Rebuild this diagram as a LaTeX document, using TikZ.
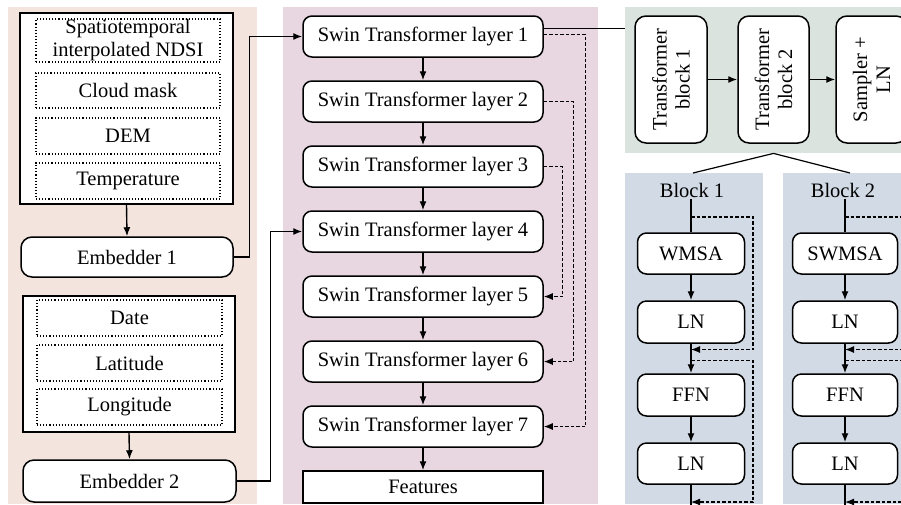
\documentclass[tikz,border=0pt]{standalone}
\usepackage{fontspec}
\setmainfont{Liberation Serif}
\usetikzlibrary{arrows.meta,calc}
\definecolor{peach}{RGB}{243,229,222}
\definecolor{mauve}{RGB}{232,215,224}
\definecolor{sage}{RGB}{219,227,223}
\definecolor{bluegrey}{RGB}{210,218,230}
\begin{document}
\begin{tikzpicture}[x=1pt,y=-1pt,
  every node/.style={font=\fontsize{20.5}{23}\selectfont, inner sep=0pt, align=center},
  panel/.style={draw=none, anchor=north west, inner sep=0pt},
  sqbox/.style={draw, line width=1.5pt, fill=white},
  dotbox/.style={draw, dotted, line width=1.1pt, fill=white},
  rbox/.style={draw, line width=1.5pt, fill=white, rounded corners=9pt},
  ln/.style={line width=1.4pt},
  arr/.style={-{Latex[length=9pt,width=7pt]}, line width=1.4pt},
  dasharr/.style={-{Latex[length=9pt,width=7pt]}, line width=1.2pt, dash pattern=on 3.5pt off 2pt},
]
\useasboundingbox (0,0) rectangle (901,504);
\fill[white] (0,0) rectangle (901,504);

% panels
\node[panel, fill=peach, minimum width=249pt, minimum height=497pt] (lp) at (8,7) {};
\node[panel, fill=mauve, minimum width=315pt, minimum height=497pt] (mp) at (283,7) {};
\node[panel, fill=sage, minimum width=290pt, minimum height=146pt] (trp) at (625,7) {};
\node[panel, fill=bluegrey, minimum width=138pt, minimum height=331pt] (b1p) at (625,173) {};
\node[panel, fill=bluegrey, minimum width=130pt, minimum height=331pt] (b2p) at (783,173) {};

% left column: input group 1
\node[sqbox, minimum width=213pt, minimum height=191pt] (in1) at (126.5,108.5) {};
\node[dotbox, minimum width=184pt, minimum height=43pt] (ndsi) at (128,40.5) {Spatiotemporal\\interpolated NDSI};
\node[dotbox, minimum width=184pt, minimum height=35pt] (cloud) at (128,90.5) {Cloud mask};
\node[dotbox, minimum width=184pt, minimum height=36pt] (dem) at (128,136) {DEM};
\node[dotbox, minimum width=184pt, minimum height=36pt] (temp) at (128,181) {Temperature};
\node[rbox, rounded corners=11pt, minimum width=212pt, minimum height=40pt] (emb1) at (127,257) {Embedder 1};
\draw[arr] (in1.south) -- (emb1.north);

% left column: input group 2
\node[sqbox, minimum width=212pt, minimum height=136pt] (in2) at (129,364) {};
\node[dotbox, minimum width=185pt, minimum height=36pt] (date) at (129.5,318) {Date};
\node[dotbox, minimum width=185pt, minimum height=36pt] (lat) at (129.5,363) {Latitude};
\node[dotbox, minimum width=185pt, minimum height=36pt] (lon) at (129.5,407) {Longitude};
\node[rbox, rounded corners=11pt, minimum width=213pt, minimum height=42pt] (emb2) at (129.5,481) {Embedder 2};
\draw[arr] (in2.south) -- (emb2.north);

% middle column
\foreach \i in {1,...,7} {
  \node[rbox, minimum width=240pt, minimum height=41pt] (swin\i) at (423,{36.5+65*(\i-1)}) {Swin Transformer layer \i};
}
\node[sqbox, minimum width=240pt, minimum height=32pt] (feat) at (423,487) {Features};
\foreach \i [evaluate=\i as \j using int(\i+1)] in {1,...,6} {
  \draw[arr] (swin\i.south) -- (swin\j.north);
}
\draw[arr] (swin7.south) -- (feat.north);

\draw[arr] (emb1.east) -- ++(16,0) |- (swin1.west);
\draw[arr] (emb2.east) -- ++(34,0) |- (swin4.west);

\draw[dasharr] ([yshift=2pt]swin1.east) -- ++(42,0) |- (swin7.east);
\draw[dasharr] (swin2.east) -- ++(30,0) |- (swin6.east);
\draw[dasharr] (swin3.east) -- ++(19,0) |- (swin5.east);

% top right
\node[rbox, rounded corners=11pt, rotate=90, minimum width=127pt, minimum height=72pt] (tb1) at (671,79.5) {Transformer\\block 1};
\node[rbox, rounded corners=11pt, rotate=90, minimum width=127pt, minimum height=71pt] (tb2) at (773.5,79.5) {Transformer\\block 2};
\node[rbox, rounded corners=11pt, rotate=90, minimum width=127pt, minimum height=71pt] (samp) at (871.5,79.5) {Sampler +\\LN};
\draw[arr] (tb1) -- (tb2);
\draw[arr] (tb2) -- (samp);

\draw[ln] ([yshift=8pt]swin1.east) coordinate (s1o) -- (s1o -| trp.west);

\coordinate (apex) at (tb2.center |- trp.south);
\coordinate (bt1) at (693,173);
\coordinate (bt2) at (850,173);
\draw[line width=1.2pt] (bt1) -- (apex) -- (bt2);

% transformer blocks
\foreach \n/\x/\t/\w/\lx in {1/691/WMSA/107/692, 2/845/SWMSA/105/843} {
  \node (bl\n) at (\lx,190) {Block \n};
  \node[rbox, minimum width=\w pt, minimum height=41pt] (att\n) at (\x,253.5) {\t};
  \node[rbox, minimum width=\w pt, minimum height=42pt] (lna\n) at (\x,322) {LN};
  \node[rbox, minimum width=\w pt, minimum height=42pt] (ffn\n) at (\x,395) {FFN};
  \node[rbox, minimum width=\w pt, minimum height=41pt] (lnb\n) at (\x,463.5) {LN};
  \coordinate (top\n) at (\x,199);
  \coordinate (d1\n) at (\x,217);
  \coordinate (j1\n) at (\x,349.5);
  \coordinate (d2\n) at (\x,360.5);
  \coordinate (j2\n) at (\x,502);
  \coordinate (end\n) at (\x,506);
  \draw[ln] (top\n) -- (att\n.north);
  \draw[arr] (att\n.south) -- (lna\n.north);
  \draw[arr] (lna\n.south) -- (ffn\n.north);
  \draw[arr] (ffn\n.south) -- (lnb\n.north);
  \draw[ln] (lnb\n.south) -- (end\n);
  \draw[dasharr] (d1\n) -- ++(62,0) |- (j1\n);
  \draw[dasharr] (d2\n) -- ++(62,0) |- (j2\n);
}
\end{tikzpicture}
\end{document}
